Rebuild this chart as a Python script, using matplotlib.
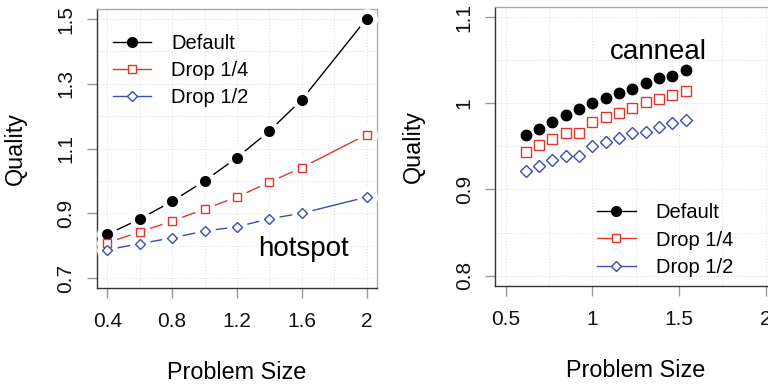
import matplotlib.pyplot as plt
from matplotlib.lines import Line2D

plt.rcParams['font.family'] = ['Liberation Sans', 'DejaVu Sans']

# hotspot panel
hot_x = [0.4, 0.6, 0.8, 1.0, 1.2, 1.4, 1.6, 2.0]
hot_default = [0.835, 0.882, 0.937, 1.000, 1.072, 1.154, 1.251, 1.501]
hot_drop14 = [0.809, 0.842, 0.876, 0.913, 0.950, 0.996, 1.041, 1.143]
hot_drop12 = [0.787, 0.806, 0.824, 0.845, 0.858, 0.883, 0.900, 0.950]

# canneal panel
can_x = [0.615, 0.692, 0.769, 0.846, 0.923, 1.000, 1.077,
         1.154, 1.231, 1.308, 1.385, 1.462, 1.538]
can_default = [0.963, 0.970, 0.978, 0.986, 0.993, 1.000, 1.006,
               1.012, 1.017, 1.024, 1.029, 1.032, 1.039]
can_drop14 = [0.943, 0.951, 0.958, 0.965, 0.965, 0.978, 0.984,
              0.989, 0.995, 1.001, 1.005, 1.009, 1.014]
can_drop12 = [0.921, 0.927, 0.934, 0.939, 0.939, 0.950, 0.955,
              0.960, 0.965, 0.967, 0.973, 0.977, 0.981]

labels = ["Default", "Drop 1/4", "Drop 1/2"]
RED = '#e2332d'
BLUE = '#3a4db5'
styles = [dict(color='black', marker='o', ms=7, mfc='black'),
          dict(color=RED, marker='s', ms=6, mfc='white'),
          dict(color=BLUE, marker='D', ms=5.2, mfc='white')]

fig = plt.figure(figsize=(7.68, 3.85), dpi=100)
ax1 = fig.add_axes([0.1263, 0.2519, 0.3646, 0.7247])
ax2 = fig.add_axes([0.645, 0.2571, 0.3655, 0.7255])


def style_axes(ax):
    for s in ['top', 'right']:
        ax.spines[s].set_color('#aaaaaa')
    for s in ['left', 'bottom']:
        ax.spines[s].set_color('#333333')
    for s in ax.spines.values():
        s.set_linewidth(1.0)
    ax.tick_params(length=7.5, width=1.0, color='#999999', labelsize=15,
                   labelcolor='#111111')
    ax.tick_params(axis='x', pad=10)
    ax.tick_params(axis='y', pad=8)
    for lab in ax.get_yticklabels():
        lab.set_rotation(90)
        lab.set_va('center')
    ax.grid(True, which='both', color='#e2e2e2', linestyle=':', linewidth=0.8)
    ax.set_axisbelow(True)
    ax.set_xlabel("Problem Size", fontsize=16.8)
    ax.set_ylabel("Quality", fontsize=16.8)


# left: lines with gaps around the points (R type="b")
series = [hot_default, hot_drop14, hot_drop12]
for ys, st in zip(series, styles):
    ax1.plot(hot_x, ys, color=st['color'], lw=1.0, zorder=2)
for ys in series:
    ax1.plot(hot_x, ys, ls='none', marker='o', ms=15, mfc='white',
             mec='none', zorder=3)
for ys, st in zip(series, styles):
    ax1.plot(hot_x, ys, ls='none', marker=st['marker'], ms=st['ms'],
             mfc=st['mfc'], mec=st['color'], mew=1.0, zorder=4)
ax1.set_xlim(0.336, 2.064)
ax1.set_ylim(0.669, 1.531)
ax1.set_xticks([0.4, 0.8, 1.2, 1.6, 2.0])
ax1.set_xticklabels(["0.4", "0.8", "1.2", "1.6", "2"])
ax1.set_yticks([0.7, 0.9, 1.1, 1.3, 1.5])
ax1.set_yticks([0.8, 1.0, 1.2, 1.4], minor=True)
ax1.tick_params(which='minor', length=0)
ax1.set_xticks([0.6, 1.0, 1.4, 1.8], minor=True)
ax1.text(1.607, 0.789, "hotspot", fontsize=20, ha='center', va='center')

# right: points only
for ys, st in zip([can_default, can_drop14, can_drop12], styles):
    ax2.plot(can_x, ys, ls='none', marker=st['marker'],
             ms=st['ms'] + 0.5, mfc=st['mfc'], mec=st['color'], mew=1.0)
ax2.set_xlim(0.44, 2.06)
ax2.set_ylim(0.788, 1.112)
ax2.set_xticks([0.5, 1.0, 1.5, 2.0])
ax2.set_xticklabels(["0.5", "1", "1.5", "2"])
ax2.set_yticks([0.8, 0.9, 1.0, 1.1])
ax2.set_yticklabels(["0.8", "0.9", "1", "1.1"])
ax2.set_yticks([0.85, 0.95, 1.05], minor=True)
ax2.set_xticks([0.75, 1.25, 1.75], minor=True)
ax2.tick_params(which='minor', length=0)
ax2.text(1.381, 1.0594, "canneal", fontsize=20, ha='center', va='center')

for ax in (ax1, ax2):
    style_axes(ax)
ax1.xaxis.set_label_coords(0.5, -0.262)
ax1.yaxis.set_label_coords(-0.25, 0.5)
ax2.xaxis.set_label_coords(0.5, -0.261)
ax2.yaxis.set_label_coords(-0.2515, 0.5)

handles = [Line2D([], [], color=st['color'], lw=1.0, marker=st['marker'],
                  ms=st['ms'], mfc=st['mfc'], mec=st['color'], mew=1.0)
           for st in styles]
ax1.legend(handles, labels, loc='center left', bbox_to_anchor=(0.057, 0.781),
           frameon=False, fontsize=14.5, handlelength=1.9, handletextpad=1.0,
           labelspacing=0.4, borderpad=0, borderaxespad=0)
ax2.legend(handles, labels, loc='center left', bbox_to_anchor=(0.363, 0.1647),
           frameon=False, fontsize=14.5, handlelength=1.9, handletextpad=1.0,
           labelspacing=0.4, borderpad=0, borderaxespad=0)

fig.savefig("out.png", dpi=100)
